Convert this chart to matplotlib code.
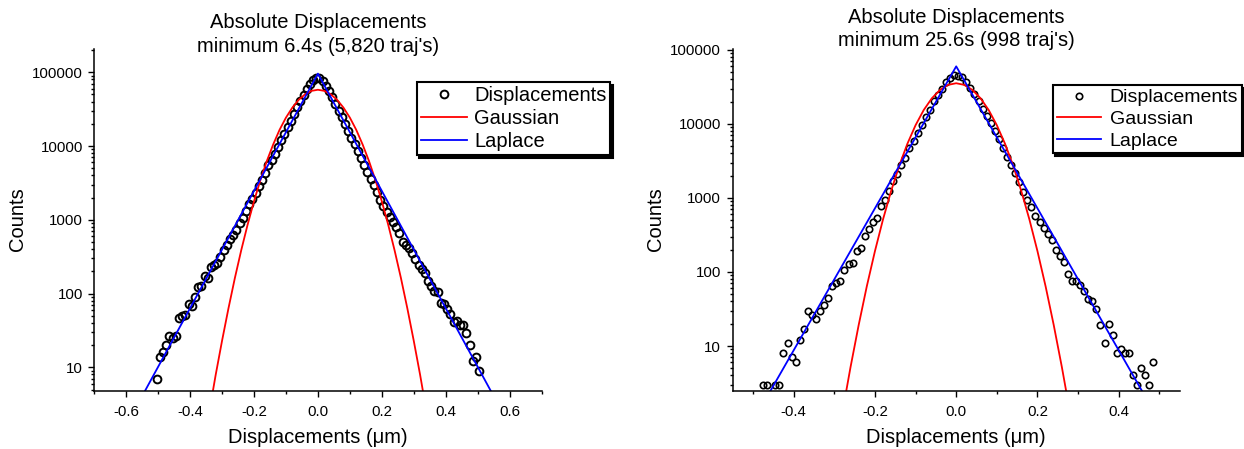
import matplotlib
matplotlib.use('Agg')
import matplotlib.pyplot as plt
from matplotlib.ticker import (MultipleLocator, FixedLocator, FuncFormatter,
                               FormatStrFormatter, LogLocator, NullFormatter)

plt.rcParams['font.family'] = ['Liberation Sans', 'DejaVu Sans']
plt.rcParams['axes.unicode_minus'] = False

# --- 6.4 s histogram (bin centres in um, counts) ---
x_64 = [-0.505, -0.495, -0.485, -0.475, -0.465, -0.455, -0.445, -0.435, -0.425, -0.415,
        -0.405, -0.395, -0.385, -0.375, -0.365, -0.355, -0.345, -0.335, -0.325, -0.315,
        -0.305, -0.295, -0.285, -0.275, -0.265, -0.255, -0.245, -0.235, -0.225, -0.215,
        -0.205, -0.195, -0.185, -0.175, -0.165, -0.155, -0.145, -0.135, -0.125, -0.115,
        -0.105, -0.095, -0.085, -0.075, -0.065, -0.055, -0.045, -0.035, -0.025, -0.015,
        -0.005,
        0.005, 0.015, 0.025, 0.035, 0.045, 0.055, 0.065, 0.075, 0.085, 0.095,
        0.105, 0.115, 0.125, 0.135, 0.145, 0.155, 0.165, 0.175, 0.185, 0.195,
        0.205, 0.215, 0.225, 0.235, 0.245, 0.255, 0.265, 0.275, 0.285, 0.295,
        0.305, 0.315, 0.325, 0.335, 0.345, 0.355, 0.365, 0.375, 0.385, 0.395,
        0.405, 0.415, 0.425, 0.435, 0.445, 0.455, 0.465, 0.475, 0.485, 0.495,
        0.505]
counts_64 = [7, 14, 16, 20, 27, 25, 27, 47, 50, 52,
             72, 68, 91, 122, 127, 173, 161, 232, 244, 257,
             316, 389, 455, 542, 621, 724, 912, 1042, 1324, 1630,
             1941, 2317, 2851, 3436, 4315, 5480, 6530, 7870, 9690, 11900,
             14700, 18100, 22200, 27400, 33700, 41400, 49900, 60100, 69500, 78700,
             83800,
             83800, 77000, 66000, 56600, 45900, 37300, 30300, 24600, 19600, 15900,
             12900, 10500, 8530, 6920, 5610, 4460, 3620, 2940, 2380, 1880,
             1530, 1290, 1100, 940, 806, 668, 505, 455, 410, 360,
             291, 244, 214, 193, 146, 126, 110, 104, 74, 72,
             61, 53, 41, 42, 38, 38, 29, 20, 12, 14,
             9]

gauss_x_64 = [-0.34, -0.32, -0.30, -0.28, -0.26, -0.24, -0.22, -0.20, -0.18, -0.16,
              -0.14, -0.12, -0.10, -0.08, -0.06, -0.04, -0.02, 0.0,
              0.02, 0.04, 0.06, 0.08, 0.10, 0.12, 0.14, 0.16, 0.18, 0.20,
              0.22, 0.24, 0.26, 0.28, 0.30, 0.32, 0.34]
gauss_y_64 = [2.5, 7.9, 23, 63, 162, 387, 861, 1790, 3460, 6250,
              10500, 16600, 24300, 33200, 42400, 50400, 56000, 58000,
              56000, 50400, 42400, 33200, 24300, 16600, 10500, 6250, 3460, 1790,
              861, 387, 162, 63, 23, 7.9, 2.5]
laplace_x_64 = [-0.56, 0.0, 0.56]
laplace_y_64 = [3.4, 96000, 3.4]

# --- 25.6 s histogram ---
x_256 = [-0.475, -0.465, -0.445, -0.435, -0.425, -0.415,
         -0.405, -0.395, -0.385, -0.375, -0.365, -0.355, -0.345, -0.335, -0.325, -0.315,
         -0.305, -0.295, -0.285, -0.275, -0.265, -0.255, -0.245, -0.235, -0.225, -0.215,
         -0.205, -0.195, -0.185, -0.175, -0.165, -0.155, -0.145, -0.135, -0.125, -0.115,
         -0.105, -0.095, -0.085, -0.075, -0.065, -0.055, -0.045, -0.035, -0.025, -0.015,
         -0.005,
         0.005, 0.015, 0.025, 0.035, 0.045, 0.055, 0.065, 0.075, 0.085, 0.095,
         0.105, 0.115, 0.125, 0.135, 0.145, 0.155, 0.165, 0.175, 0.185, 0.195,
         0.205, 0.215, 0.225, 0.235, 0.245, 0.255, 0.265, 0.275, 0.285, 0.295,
         0.305, 0.315, 0.325, 0.335, 0.345, 0.355, 0.365, 0.375, 0.385, 0.395,
         0.405, 0.415, 0.425, 0.435, 0.445, 0.455, 0.465, 0.475, 0.485]
counts_256 = [3, 3, 3, 3, 8, 11,
              7, 6, 12, 17, 30, 26, 23, 30, 36, 44,
              65, 70, 75, 107, 129, 133, 192, 212, 302, 384,
              477, 540, 767, 925, 1237, 1670, 2120, 2830, 3480, 4750,
              5970, 7580, 9790, 12300, 15500, 20300, 24900, 29700, 36600, 41900,
              46500,
              45100, 42800, 36600, 30700, 25500, 20700, 16000, 13000, 10200, 7950,
              6300, 4750, 3630, 2830, 2160, 1640, 1200, 944, 752, 562,
              472, 396, 328, 267, 199, 162, 136, 95, 75, 75,
              66, 55, 43, 40, 32, 19, 11, 20, 14, 8,
              9, 8, 8, 4, 3, 5, 4, 3, 6]

gauss_x_256 = [-0.28, -0.26, -0.24, -0.22, -0.20, -0.18, -0.16, -0.14, -0.12, -0.10,
               -0.08, -0.06, -0.04, -0.02, 0.0,
               0.02, 0.04, 0.06, 0.08, 0.10, 0.12, 0.14, 0.16, 0.18, 0.20,
               0.22, 0.24, 0.26, 0.28]
gauss_y_256 = [1.27, 5.2, 19.2, 64, 191, 516, 1250, 2750, 5420, 9620,
               15400, 22200, 28800, 33700, 35500,
               33700, 28800, 22200, 15400, 9620, 5420, 2750, 1250, 516, 191,
               64, 19.2, 5.2, 1.27]
laplace_x_256 = [-0.5, 0.0, 0.5]
laplace_y_256 = [0.96, 60000, 0.96]

W, H = 1244, 449
fig = plt.figure(figsize=(W / 100, H / 100), dpi=100)


def box(l, t, r, b):
    return [l / W, 1 - b / H, (r - l) / W, (b - t) / H]


def style(ax, xlim, ylim):
    ax.set_yscale('log')
    ax.set_xlim(xlim)
    ax.set_ylim(ylim)
    for s in ['top', 'right']:
        ax.spines[s].set_visible(False)
    for s in ['left', 'bottom']:
        ax.spines[s].set_linewidth(1.1)
    ax.xaxis.set_major_locator(MultipleLocator(0.2))
    ax.xaxis.set_minor_locator(MultipleLocator(0.1))
    ax.xaxis.set_major_formatter(FormatStrFormatter('%.1f'))
    ax.yaxis.set_major_locator(FixedLocator([10, 100, 1000, 10000, 100000]))
    ax.yaxis.set_minor_locator(LogLocator(base=10, subs=range(2, 10), numticks=20))
    ax.yaxis.set_major_formatter(FuncFormatter(lambda v, p: f'{v:.0f}'))
    ax.yaxis.set_minor_formatter(NullFormatter())
    ax.tick_params(which='both', direction='out', width=1.0, labelsize=10.8)
    ax.tick_params(which='major', length=4.3)
    ax.tick_params(which='minor', length=2.5)
    ax.tick_params(axis='x', pad=6)
    ax.tick_params(axis='y', pad=4)


def add_legend(ax, left, top, size, hl, htp):
    leg = ax.legend(loc='upper left', bbox_to_anchor=(left / W, 1 - top / H),
                    bbox_transform=fig.transFigure, fontsize=size, fancybox=False,
                    edgecolor='black', framealpha=1, borderpad=0.2, labelspacing=0.2,
                    handlelength=hl, handletextpad=htp, borderaxespad=0, numpoints=1,
                    shadow={'facecolor': 'black', 'edgecolor': 'black', 'alpha': 1})
    leg.get_frame().set_linewidth(1.5)


# left panel
ax1 = fig.add_axes(box(94.3, 49.3, 541.5, 390.7))
ax1.plot(x_64, counts_64, 'o', ms=5.6, mfc='none', mec='black', mew=1.4, label='Displacements')
ax1.plot(gauss_x_64, gauss_y_64, color='#ff0000', lw=1.3, label='Gaussian')
ax1.plot(laplace_x_64, laplace_y_64, color='#0000ff', lw=1.3, label='Laplace')
style(ax1, (-0.7, 0.7), (4.82, 2.05e5))
add_legend(ax1, 416.7, 82.3, 14.5, 2.3, 0.35)

fig.text(318 / W, 1 - 22.7 / H, 'Absolute Displacements', ha='center', va='center', fontsize=14.5)
fig.text(318 / W, 1 - 46.7 / H, "minimum 6.4s (5,820 traj's)", ha='center', va='center', fontsize=14.5)
fig.text(18 / W, 1 - 219 / H, 'Counts', rotation=90, ha='center', va='center', fontsize=14.5)
fig.text(318 / W, 1 - 437.5 / H, 'Displacements (μm)', ha='center', va='center', fontsize=14.5)

# right panel
ax2 = fig.add_axes(box(732.7, 49.3, 1179.7, 390.7))
ax2.plot(x_256, counts_256, 'o', ms=4.6, mfc='none', mec='black', mew=1.2, label='Displacements')
ax2.plot(gauss_x_256, gauss_y_256, color='#ff0000', lw=1.3, label='Gaussian')
ax2.plot(laplace_x_256, laplace_y_256, color='#0000ff', lw=1.3, label='Laplace')
style(ax2, (-0.55, 0.55), (2.49, 1.02e5))
add_legend(ax2, 1052.7, 85, 14, 2.3, 0.43)

fig.text(956 / W, 1 - 17.3 / H, 'Absolute Displacements', ha='center', va='center', fontsize=14.5)
fig.text(956 / W, 1 - 40.7 / H, "minimum 25.6s (998 traj's)", ha='center', va='center', fontsize=14.5)
fig.text(655 / W, 1 - 219 / H, 'Counts', rotation=90, ha='center', va='center', fontsize=14.5)
fig.text(956 / W, 1 - 437.5 / H, 'Displacements (μm)', ha='center', va='center', fontsize=14.5)

fig.savefig('out.png', dpi=100)
